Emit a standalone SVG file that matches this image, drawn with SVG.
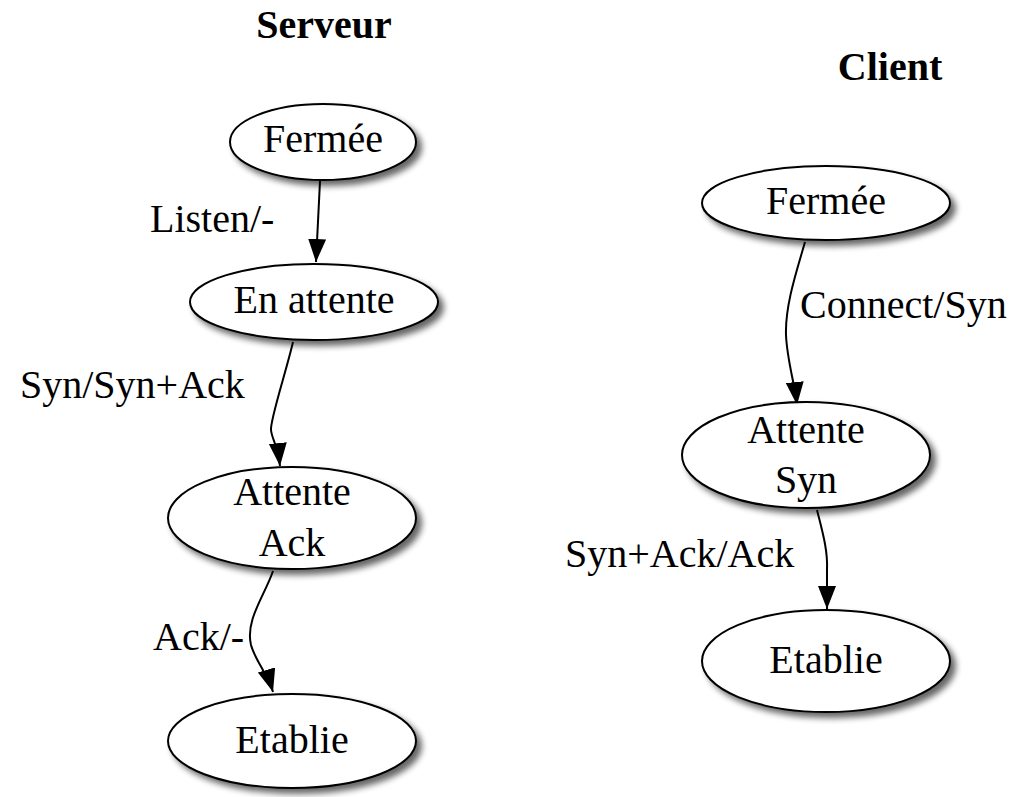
<svg xmlns="http://www.w3.org/2000/svg" width="1016" height="797" viewBox="0 0 1016 797">
<style>
.n ellipse{fill:#fff;stroke:#000;stroke-width:2;filter:url(#sh)}
text{font-family:"Liberation Serif","Times New Roman",serif;font-size:40px;fill:#000}
.c{text-anchor:middle}
.t{font-weight:bold}
.e path{fill:none;stroke:#000;stroke-width:2;marker-end:url(#ah)}
</style>
<defs>
<filter id="sh" x="-20%" y="-20%" width="150%" height="160%">
<feGaussianBlur in="SourceAlpha" stdDeviation="3" result="b"/>
<feOffset dx="5" dy="5" result="o"/>
<feComponentTransfer in="o" result="s"><feFuncA type="linear" slope="0.6"/></feComponentTransfer>
<feMerge><feMergeNode in="s"/><feMergeNode in="SourceGraphic"/></feMerge>
</filter>
<marker id="ah" markerUnits="userSpaceOnUse" markerWidth="26" markerHeight="20" refX="23" refY="9" orient="auto" viewBox="0 0 26 20">
<path d="M0,0 L23,9 L0,18 z" fill="#000"/>
</marker>
</defs>
<text class="c t" x="324" y="38">Serveur</text>
<text class="c t" x="890" y="80">Client</text>
<g class="e" id="connectors">
<path d="M320,181 L316,262"/>
<path d="M293,342 C286,372 270,420 271,430 C272,440 278,445 280,466"/>
<path d="M273,571 C265,595 245,620 251,645 C255,660 268,675 273,692"/>
<path d="M805,242 C797,270 785,305 786,335 C787,360 795,385 797,405"/>
<path d="M817,510 C822,530 828,550 827,570 L827,609"/>
</g>
<g id="labels">
<text x="150" y="232">Listen/-</text>
<text x="20" y="398">Syn/Syn+Ack</text>
<text x="153" y="650">Ack/-</text>
<text x="800" y="318">Connect/Syn</text>
<text x="565" y="567">Syn+Ack/Ack</text>
</g>
<g class="n" id="s_fermee"><ellipse cx="323" cy="142" rx="93" ry="38"/><text class="c" x="323" y="152">Fermée</text></g>
<g class="n" id="s_attente"><ellipse cx="314" cy="302" rx="124" ry="38"/><text class="c" x="314" y="313">En attente</text></g>
<g class="n" id="s_attack"><ellipse cx="292" cy="518" rx="124" ry="51"/><text class="c" x="292" y="505">Attente</text><text class="c" x="292" y="556">Ack</text></g>
<g class="n" id="s_etablie"><ellipse cx="292" cy="741" rx="124" ry="47"/><text class="c" x="292" y="753">Etablie</text></g>
<g class="n" id="c_fermee"><ellipse cx="826" cy="203" rx="124" ry="37"/><text class="c" x="826" y="214">Fermée</text></g>
<g class="n" id="c_attsyn"><ellipse cx="806" cy="455" rx="124" ry="53"/><text class="c" x="806" y="443">Attente</text><text class="c" x="806" y="493">Syn</text></g>
<g class="n" id="c_etablie"><ellipse cx="826" cy="661" rx="124" ry="51"/><text class="c" x="826" y="673">Etablie</text></g>
</svg>
